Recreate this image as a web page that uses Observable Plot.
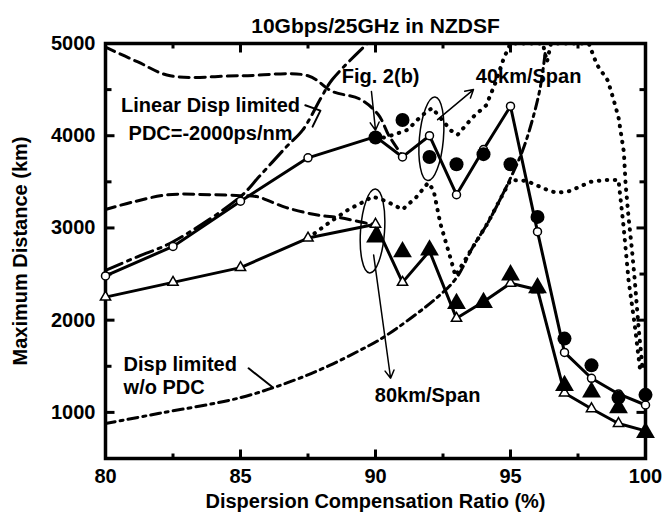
<!DOCTYPE html>
<html>
<head>
<meta charset="utf-8">
<script src="https://cdn.jsdelivr.net/npm/d3@7"></script>
<script src="https://cdn.jsdelivr.net/npm/@observablehq/plot@0.6"></script>
<style>
  body { margin: 0; background: #fff; }
</style>
</head>
<body>
<div id="chart"></div>
<script>
// Simulated maximum distance (open markers, solid lines)
const ratioSim = [80, 82.5, 85, 87.5, 90, 91, 92, 93, 94, 95, 96, 97, 98, 99, 100];
const sim40 = [2480, 2800, 3290, 3760, 3990, 3770, 4000, 3360, 3850, 4320, 2960, 1650, 1370, 1200, 1080];
const sim80 = [2250, 2410, 2570, 2890, 3040, 2410, 2750, 2020, 2200, 2400, 2330, 1210, 1040, 880, 800];

// Measured maximum distance (filled markers)
const ratioExp = [90, 91, 92, 93, 94, 95, 96, 97, 98, 99, 100];
const exp40 = [3980, 4170, 3770, 3690, 3800, 3690, 3120, 1800, 1510, 1160, 1190];
const exp80 = [2900, 2740, 2760, 2180, 2190, 2490, 2350, 1290, 1220, 1050, 780];

// Dashed limits
const dashHiX = [80, 81.2, 82.4, 85, 87.5, 88.4, 89.4, 90.1, 90.5, 91];
const dashHiY = [4960, 4800, 4650, 4650, 4650, 4480, 4400, 4230, 4000, 3780];
const dashLoX = [80, 81, 82.3, 83.9, 85, 85.6, 86.7, 87.85, 88.7, 89.7, 90];
const dashLoY = [3200, 3280, 3360, 3360, 3350, 3340, 3220, 3140, 3110, 3050, 3040];

// Linear dispersion limit with PDC = -2000 ps/nm
const linPdcX = [80, 81.2, 82.5, 85, 85.7, 86.7, 87.3, 88.0, 88.4, 89.7];
const linPdcY = [2540, 2690, 2850, 3340, 3560, 3880, 4060, 4420, 4610, 5000];

// Dispersion limit without PDC
const noPdcX = [80, 82, 85, 87, 88.3, 89.4, 90.3, 92.3, 93, 93.6, 94.15, 94.6, 95, 95.45, 95.8, 96.1, 96.3];
const noPdcY = [880, 990, 1160, 1350, 1510, 1670, 1815, 2250, 2460, 2790, 3050, 3300, 3540, 3840, 4160, 4520, 4935];

// Dotted curves
const dotHiX = [90, 90.3, 90.67, 91.2, 91.56, 91.85, 92.1, 92.5, 92.8, 93.04, 93.6, 94.1, 94.45, 94.75, 95.0, 96.2, 96.35, 96.5, 97.9, 98.2, 98.6, 98.8, 99.0, 99.2, 99.26, 99.37, 99.5, 99.6, 99.75, 99.9];
const dotHiY = [3990, 3980, 4010, 4065, 4175, 4250, 4300, 4160, 4055, 4010, 4200, 4330, 4580, 4840, 5000, 5000, 4800, 5000, 5000, 4770, 4600, 4410, 4200, 3820, 3490, 3120, 2760, 2440, 1900, 1450];
const dotLoX = [87.5, 88.44, 89.0, 89.6, 89.9, 90.4, 91.0, 91.5, 91.95, 92.15, 92.4, 92.8, 92.96, 93.6, 94.15, 94.6, 95.0, 95.6, 96.3, 96.7, 97.2, 97.96, 98.5, 99.0, 99.19, 99.37, 99.6, 99.8];
const dotLoY = [2890, 3090, 3200, 3290, 3340, 3290, 3200, 3330, 3490, 3410, 3050, 2650, 2480, 2790, 3050, 3300, 3520, 3510, 3420, 3380, 3400, 3500, 3520, 3520, 3010, 2440, 1950, 1460];

// Axis domains and tick values
const xDomain = [80, 100];
const yDomain = [500, 5000];
const xMajor = [80, 85, 90, 95, 100];
const xMinor = [82.5, 87.5, 92.5, 97.5];
const yMajor = [1000, 2000, 3000, 4000, 5000];
const yMinor = [1500, 2500, 3500, 4500];

// Annotations
const labelsMid = [
  {x: 90.19, y: 4641, text: "Fig. 2(b)"},
  {x: 95.67, y: 4641, text: "40km/Span"},
  {x: 91.93, y: 1185, text: "80km/Span"}
];
const labelLin = [{x: 83.89, y: 4207, text: "Linear Disp limited\nPDC=-2000ps/nm"}];
const labelNoPdc = [{x: 80.67, y: 1402, text: "Disp limited\nw/o PDC"}];
const arrows = [
  {x1: 89.85, y1: 4480, x2: 90.0, y2: 4060},
  {x1: 92.3, y1: 4174, x2: 93.63, y2: 4500},
  {x1: 89.93, y1: 2707, x2: 90.56, y2: 1370}
];
const leaderLin = [{x: 87.4, y: 4330}, {x: 87.96, y: 4272}, {x: 87.67, y: 4098}];
const leaderNoPdc = [{x: 85.3, y: 1478}, {x: 86.19, y: 1272}];
const loops = [{x: 92.07, y: 3967, tilt: 5}, {x: 89.89, y: 2967, tilt: 4}];

const zip = (xs, ys) => xs.map((x, i) => ({x, y: ys[i]}));

// Elongated loop used to circle a group of points
const loopSymbol = {
  draw(ctx) {
    const rx = 12, ry = 42, k = 0.5523;
    ctx.moveTo(0, -ry);
    ctx.bezierCurveTo(k * rx, -ry, rx, -k * ry, rx, 0);
    ctx.bezierCurveTo(rx, k * ry, k * rx, ry, 0, ry);
    ctx.bezierCurveTo(-k * rx, ry, -rx, k * ry, -rx, 0);
    ctx.bezierCurveTo(-rx, -k * ry, -k * rx, -ry, 0, -ry);
    ctx.closePath();
  }
};

// Short tick strokes pointing into the plot area from a given side
const tickSymbol = (dx, dy) => ({draw(ctx) { ctx.moveTo(0, 0); ctx.lineTo(dx, dy); }});
const xTicks = (values, len, side) => Plot.dot(values, {
  x: (d) => d, frameAnchor: side, symbol: tickSymbol(0, side === "bottom" ? -len : len),
  fill: "none", stroke: "black", strokeWidth: 3
});
const yTicks = (values, len, side) => Plot.dot(values, {
  y: (d) => d, frameAnchor: side, symbol: tickSymbol(side === "left" ? len : -len, 0),
  fill: "none", stroke: "black", strokeWidth: 3
});

const font = "'Liberation Sans', Arial, Helvetica, sans-serif";
const lineStyle = {x: "x", y: "y", strokeWidth: 3, clip: true};

const chart = Plot.plot({
  width: 664,
  height: 514,
  marginTop: 43,
  marginBottom: 56,
  marginLeft: 105,
  marginRight: 19,
  style: {fontFamily: font, fontWeight: "bold", fontSize: "20px", background: "#fff", color: "#000"},
  x: {domain: xDomain},
  y: {domain: yDomain},
  marks: [
    Plot.frame({fill: "none", stroke: "black", strokeWidth: 3.5}),

    // tick labels and axis titles
    Plot.axisX(xMajor, {anchor: "bottom", tickSize: 0, tickPadding: 10, fontSize: 20,
      label: "Dispersion Compensation Ratio (%)", labelAnchor: "center", labelOffset: 49, labelArrow: "none"}),
    Plot.axisY(yMajor, {anchor: "left", tickSize: 0, tickPadding: 10, fontSize: 20, tickFormat: d3.format("d"),
      label: "Maximum Distance (km)", labelAnchor: "center", labelOffset: 93, labelArrow: "none"}),

    // inward ticks on all four sides
    xTicks(xMajor, 9, "bottom"), xTicks(xMinor, 5, "bottom"),
    xTicks(xMajor, 9, "top"), xTicks(xMinor, 5, "top"),
    yTicks(yMajor, 9, "left"), yTicks(yMinor, 6, "left"),
    yTicks(yMajor, 9, "right"), yTicks(yMinor, 6, "right"),

    // limit curves
    Plot.line(zip(dashHiX, dashHiY), {...lineStyle, curve: "catmull-rom", strokeDasharray: "10,6"}),
    Plot.line(zip(dashLoX, dashLoY), {...lineStyle, curve: "catmull-rom", strokeDasharray: "10,6"}),
    Plot.line(zip(linPdcX, linPdcY), {...lineStyle, curve: "catmull-rom", strokeDasharray: "18,6,3,6"}),
    Plot.line(zip(noPdcX, noPdcY), {...lineStyle, curve: "catmull-rom", strokeDasharray: "10,5,3,5"}),
    Plot.line(zip(dotHiX, dotHiY), {...lineStyle, strokeWidth: 4, strokeDasharray: "0.5,7.5", strokeLinecap: "round"}),
    Plot.line(zip(dotLoX, dotLoY), {...lineStyle, strokeWidth: 4, strokeDasharray: "0.5,7.5", strokeLinecap: "round"}),

    // simulation curves
    Plot.line(zip(ratioSim, sim40), {x: "x", y: "y", strokeWidth: 3}),
    Plot.line(zip(ratioSim, sim80), {x: "x", y: "y", strokeWidth: 3}),
    Plot.dot(zip(ratioSim, sim40), {x: "x", y: "y", r: 4, symbol: "circle", fill: "white", stroke: "black", strokeWidth: 1.5}),
    Plot.dot(zip(ratioSim, sim80), {x: "x", y: "y", r: 3.8, symbol: "triangle", fill: "white", stroke: "black", strokeWidth: 1.5}),

    // measurements
    Plot.dot(zip(ratioExp, exp40), {x: "x", y: "y", r: 7, symbol: "circle", fill: "black", stroke: "none"}),
    Plot.dot(zip(ratioExp, exp80), {x: "x", y: "y", r: 7, symbol: "triangle", fill: "black", stroke: "none"}),

    // annotations
    Plot.dot(loops, {x: "x", y: "y", symbol: loopSymbol, rotate: "tilt", fill: "none", stroke: "black", strokeWidth: 1.5}),
    Plot.arrow(arrows, {x1: "x1", y1: "y1", x2: "x2", y2: "y2", strokeWidth: 1.5, headLength: 9}),
    Plot.line(leaderLin, {x: "x", y: "y", strokeWidth: 2}),
    Plot.line(leaderNoPdc, {x: "x", y: "y", strokeWidth: 2}),
    Plot.text(labelsMid, {x: "x", y: "y", text: "text", textAnchor: "middle", fontSize: 20, fontWeight: "bold"}),
    Plot.text(labelLin, {x: "x", y: "y", text: "text", textAnchor: "middle", lineHeight: 1.4, fontSize: 20, fontWeight: "bold"}),
    Plot.text(labelNoPdc, {x: "x", y: "y", text: "text", textAnchor: "start", lineHeight: 1.15, fontSize: 20, fontWeight: "bold"}),

    // title
    Plot.text(["10Gbps/25GHz in NZDSF"], {frameAnchor: "top", dy: -25, fontSize: 21, fontWeight: "bold"})
  ]
});

document.getElementById("chart").appendChild(chart);
</script>
</body>
</html>
